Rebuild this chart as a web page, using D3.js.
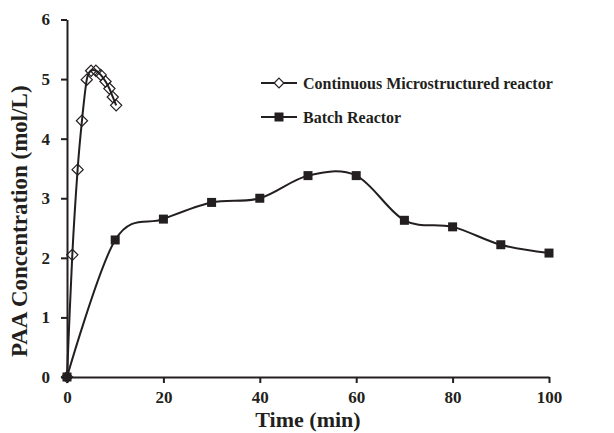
<!DOCTYPE html>
<html>
<head>
<meta charset="utf-8">
<script src="https://cdn.jsdelivr.net/npm/d3@7"></script>
<style>
  html, body { margin: 0; padding: 0; background: #fff; }
  svg { display: block; }
  text { font-family: "Liberation Serif", "Times New Roman", serif; font-weight: bold; fill: #231f20; }
</style>
</head>
<body>
<svg id="chart" width="614" height="433"></svg>
<script>
// PAA concentration over time for the two reactor types
const contTime  = [0, 1.1, 2.2, 3.1, 4.1, 5.0, 6.0, 7.0, 8.0, 8.8, 9.5, 10.2];
const contConc  = [0, 2.05, 3.48, 4.30, 4.99, 5.14, 5.14, 5.07, 4.96, 4.84, 4.70, 4.56];
const batchTime = [0, 10, 20, 30, 40, 50, 60, 70, 80, 90, 100];
const batchConc = [0, 2.30, 2.65, 2.93, 3.00, 3.38, 3.38, 2.63, 2.52, 2.22, 2.08];
const xTicks = [0, 20, 40, 60, 80, 100];
const yTicks = [0, 1, 2, 3, 4, 5, 6];
const seriesNames = ["Continuous Microstructured reactor", "Batch Reactor"];

const ink = "#231f20";
const svg = d3.select("#chart");

const x = d3.scaleLinear().domain([0, 100]).range([67, 549]);
const y = d3.scaleLinear().domain([0, 6]).range([377, 19.5]);

// axes
const xAxis = svg.append("g")
  .attr("transform", `translate(0,${y(0)})`)
  .call(d3.axisBottom(x).tickValues(xTicks).tickFormat(d3.format("d"))
    .tickSize(6).tickPadding(8).tickSizeOuter(0));
const yAxis = svg.append("g")
  .attr("transform", `translate(${x(0)},0)`)
  .call(d3.axisLeft(y).tickValues(yTicks).tickFormat(d3.format("d"))
    .tickSize(6).tickPadding(11).tickSizeOuter(0));

[xAxis, yAxis].forEach(g => {
  g.select(".domain").attr("stroke", ink).attr("stroke-width", 2);
  g.selectAll(".tick line").attr("stroke", ink).attr("stroke-width", 2);
  g.selectAll(".tick text").attr("fill", ink).style("font-size", "17px")
    .style("font-family", "'Liberation Serif', serif").style("font-weight", "bold");
});

// axis titles
svg.append("text")
  .attr("x", (x(0) + x(100)) / 2).attr("y", 427)
  .attr("text-anchor", "middle").style("font-size", "22px")
  .text("Time (min)");
svg.append("text")
  .attr("transform", `translate(27,${(y(0) + y(6)) / 2 + 23}) rotate(-90)`)
  .attr("text-anchor", "middle").style("font-size", "23px")
  .text("PAA Concentration (mol/L)");

const line = d3.line()
  .x(d => x(d[0])).y(d => y(d[1]))
  .curve(d3.curveCardinal.tension(0));

const contData = contTime.map((t, i) => [t, contConc[i]]);
const batchData = batchTime.map((t, i) => [t, batchConc[i]]);

const diamond = d3.symbol().type(d3.symbolDiamond2).size(80);

// batch reactor series
svg.append("path").datum(batchData)
  .attr("d", line).attr("fill", "none").attr("stroke", ink).attr("stroke-width", 2);
svg.append("g").selectAll("rect").data(batchData).join("rect")
  .attr("x", d => x(d[0]) - 4.5).attr("y", d => y(d[1]) - 4.5)
  .attr("width", 9).attr("height", 9).attr("fill", ink);

// continuous microstructured reactor series
svg.append("path").datum(contData)
  .attr("d", line).attr("fill", "none").attr("stroke", ink).attr("stroke-width", 2);
svg.append("g").selectAll("path").data(contData).join("path")
  .attr("d", diamond)
  .attr("transform", d => `translate(${x(d[0])},${y(d[1])})`)
  .attr("fill", "none").attr("stroke", ink).attr("stroke-width", 1.2);

// legend
const legend = svg.append("g").attr("transform", "translate(261,83)");
seriesNames.forEach((name, i) => {
  const row = legend.append("g").attr("transform", `translate(0,${i * 34})`);
  row.append("line").attr("x1", 0).attr("x2", 36).attr("y1", 0).attr("y2", 0)
    .attr("stroke", ink).attr("stroke-width", 2);
  if (i === 0) {
    row.append("path").attr("d", d3.symbol().type(d3.symbolDiamond2).size(60))
      .attr("transform", "translate(18,0)")
      .attr("fill", "#fff").attr("stroke", ink).attr("stroke-width", 1.2);
  } else {
    row.append("rect").attr("x", 13.5).attr("y", -4.5).attr("width", 9).attr("height", 9).attr("fill", ink);
  }
  row.append("text").attr("x", 42).attr("y", 6).style("font-size", "16px").text(name);
});
</script>
</body>
</html>
